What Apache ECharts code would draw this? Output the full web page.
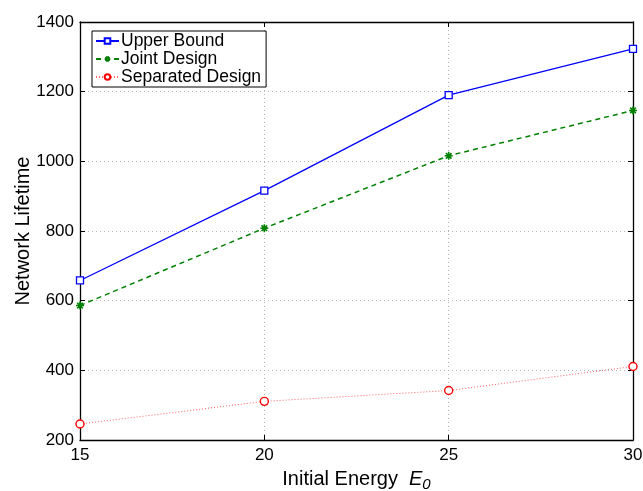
<!DOCTYPE html>
<html>
<head>
<meta charset="utf-8">
<script src="https://cdn.jsdelivr.net/npm/echarts@6/dist/echarts.min.js"></script>
<style>
    html, body { margin: 0; padding: 0; background: #fff; }
    #chart { width: 643px; height: 491px; }
</style>
</head>
<body>
<div id="chart"></div>
<script>
const energy = [15, 20, 25, 30]
const upperBound = [658, 916, 1190, 1323]
const jointDesign = [586, 808, 1016, 1146]
const separatedDesign = [246, 311, 342, 411]
const seriesNames = ['Upper Bound', 'Joint Design', 'Separated Design']

const font = '"Liberation Sans", Arial, Helvetica, sans-serif'
const asterisk = 'path://M0 5L10 5M5 0L5 10M1.5 1.5L8.5 8.5M8.5 1.5L1.5 8.5'

const pairs = arr => energy.map((x, i) => [x, arr[i]])

const gridLine = {
    show: true,
    lineStyle: { color: '#b5b5b5', type: [1, 3], width: 1 }
}
const tickIn = { show: true, inside: true, length: 5, lineStyle: { color: '#000' } }
const blackLine = { show: true, onZero: false, lineStyle: { color: '#000', width: 1.3 } }

const chart = echarts.init(document.getElementById('chart'))
chart.setOption({
    animation: false,
    textStyle: { fontFamily: font },
    grid: { left: 80, right: 10, top: 22, bottom: 51, outerBoundsMode: 'none', containLabel: false },
    legend: {
        data: seriesNames,
        orient: 'vertical',
        left: 92,
        top: 31,
        backgroundColor: '#fff',
        borderColor: '#000',
        borderWidth: 1,
        borderRadius: 0,
        padding: [1, 5, 1, 3],
        itemGap: 0,
        itemWidth: 23,
        itemHeight: 7,
        textStyle: { fontFamily: font, fontSize: 17.5, color: '#000', lineHeight: 18, padding: [0, 0, 0, -3] }
    },
    xAxis: [{
        type: 'value',
        min: 15,
        max: 30,
        interval: 5,
        name: 'Initial Energy  {e|E}{s|0}',
        nameLocation: 'middle',
        nameGap: 26,
        nameMoveOverlap: false,
        nameTextStyle: {
            fontFamily: font, fontSize: 20, color: '#000',
            rich: {
                e: { fontFamily: font, fontSize: 20, fontStyle: 'italic', color: '#000' },
                s: { fontFamily: font, fontSize: 15, fontStyle: 'italic', color: '#000', padding: [11, 0, 0, 0] }
            }
        },
        axisLine: blackLine,
        axisTick: tickIn,
        axisLabel: { color: '#000', fontSize: 17, margin: 7 },
        splitLine: gridLine
    }, {
        type: 'value',
        position: 'top',
        min: 15,
        max: 30,
        interval: 5,
        axisLine: blackLine,
        axisTick: tickIn,
        axisLabel: { show: false },
        splitLine: { show: false }
    }],
    yAxis: [{
        type: 'value',
        min: 200,
        max: 1400,
        interval: 200,
        name: 'Network Lifetime',
        nameLocation: 'middle',
        nameGap: 47,
        nameMoveOverlap: false,
        nameTextStyle: { fontFamily: font, fontSize: 20, color: '#000' },
        axisLine: blackLine,
        axisTick: tickIn,
        axisLabel: { color: '#000', fontSize: 17, margin: 6, formatter: v => String(v) },
        splitLine: gridLine
    }, {
        type: 'value',
        position: 'right',
        min: 200,
        max: 1400,
        interval: 200,
        axisLine: blackLine,
        axisTick: tickIn,
        axisLabel: { show: false },
        splitLine: { show: false }
    }],
    series: [{
        name: seriesNames[0],
        type: 'line',
        data: pairs(upperBound),
        symbol: 'rect',
        symbolSize: 7,
        lineStyle: { color: '#0000ff', width: 1.3, type: 'solid' },
        itemStyle: { color: '#fff', borderColor: '#0000ff', borderWidth: 1.3 }
    }, {
        name: seriesNames[1],
        type: 'line',
        data: pairs(jointDesign),
        symbol: asterisk,
        symbolSize: 8,
        lineStyle: { color: '#008000', width: 1.5, type: [5, 4] },
        itemStyle: { color: '#008000', borderColor: '#008000', borderWidth: 1.6 }
    }, {
        name: seriesNames[2],
        type: 'line',
        data: pairs(separatedDesign),
        symbol: 'circle',
        symbolSize: 8,
        lineStyle: { color: '#ff6060', width: 1, type: [1, 2] },
        itemStyle: { color: '#fff', borderColor: '#ff0000', borderWidth: 1.4 }
    }]
})
</script>
</body>
</html>
